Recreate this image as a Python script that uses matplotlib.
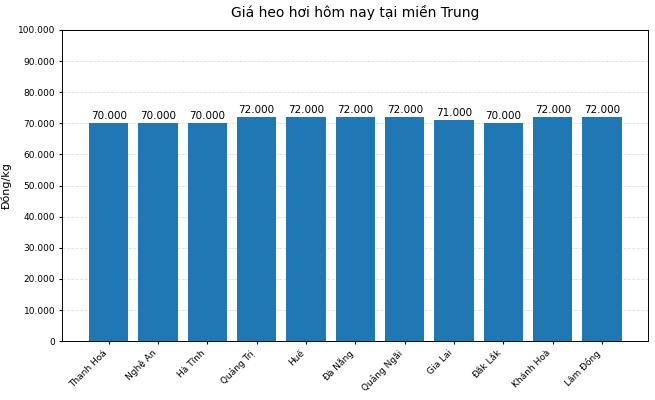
import matplotlib
matplotlib.use("Agg")
import matplotlib.pyplot as plt
from matplotlib.ticker import FuncFormatter

tinh = ["Thanh Hoá", "Nghệ An", "Hà Tĩnh", "Quảng Trị", "Huế", "Đà Nẵng",
        "Quảng Ngãi", "Gia Lai", "Đắk Lắk", "Khánh Hoà", "Lâm Đồng"]
gia = [70000, 70000, 70000, 72000, 72000, 72000, 72000, 71000, 70000, 72000, 72000]


def dinh_dang(x, pos=None):
    return f"{int(x):,}".replace(",", ".")


fig, ax = plt.subplots(figsize=(6.55, 4), dpi=100)
fig.subplots_adjust(left=0.095, right=0.99, top=0.925, bottom=0.147)

cot = ax.bar(tinh, gia, color="#1f77b4", width=0.8)
for c, v in zip(cot, gia):
    ax.text(c.get_x() + c.get_width() / 2, v + 800, dinh_dang(v),
            ha="center", va="bottom", fontsize=7.5)

ax.set_ylim(0, 100000)
ax.set_yticks(range(0, 100001, 10000))
ax.yaxis.set_major_formatter(FuncFormatter(dinh_dang))
ax.set_ylabel("Đồng/kg", fontsize=8, labelpad=4)
ax.set_title("Giá heo hơi hôm nay tại miền Trung", fontsize=10, pad=9)
ax.grid(axis="y", linestyle="--", alpha=0.4, linewidth=0.6)
ax.set_axisbelow(True)
ax.tick_params(axis="both", labelsize=6.5, length=2.5, pad=2.5)
for s in ax.spines.values():
    s.set_linewidth(0.7)
plt.setp(ax.get_xticklabels(), rotation=45, ha="right")

fig.savefig("out.png")
